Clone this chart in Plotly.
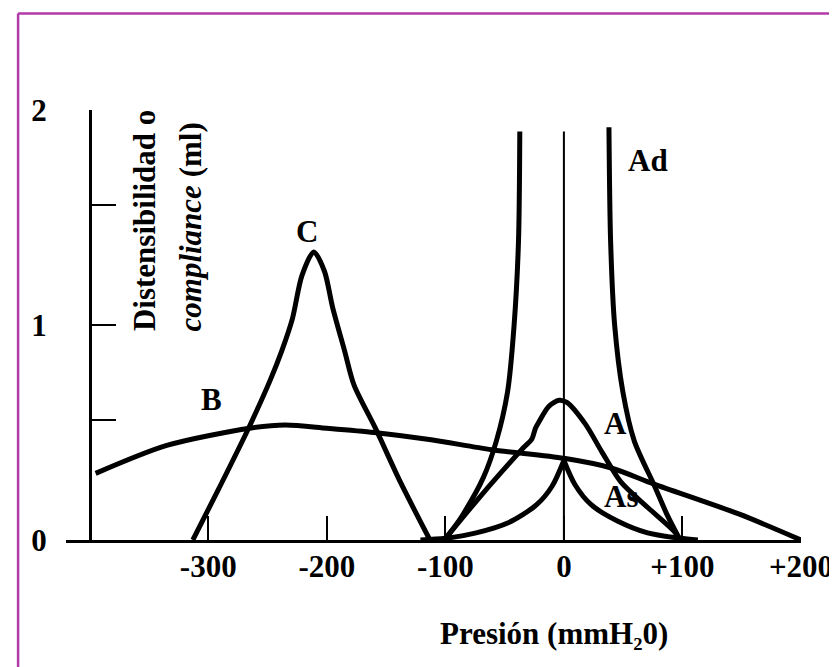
import plotly.graph_objects as go

# ---- data ----
b_x = [-395, -335, -265, -235, -200, -160, -112, -61, 0, 40, 76, 148, 200]
b_y = [0.31, 0.44, 0.52, 0.535, 0.52, 0.50, 0.466, 0.42, 0.38, 0.335, 0.26, 0.12, 0.0]

c_x = [-313, -291, -266, -248, -238, -229, -221, -211, -202, -195, -185, -177, -159, -138, -113]
c_y = [0.0, 0.24, 0.52, 0.74, 0.88, 1.03, 1.23, 1.34, 1.25, 1.08, 0.88, 0.72, 0.52, 0.27, 0.0]

a_x = [-101, -74, -52, -34, -27, -24, -21, -13, -4, 2.5, 18, 32, 48, 71, 93, 98]
a_y = [0.0, 0.18, 0.32, 0.43, 0.47, 0.52, 0.55, 0.62, 0.65, 0.64, 0.54, 0.41, 0.27, 0.15, 0.04, 0.0]

as_left_x = [-121, -100, -74, -47, -23, -10, 0]
as_left_y = [0.0, 0.008, 0.033, 0.08, 0.164, 0.25, 0.37]
as_right_x = [0, 9.4, 23, 45.6, 70.6, 98, 113]
as_right_y = [0.37, 0.257, 0.164, 0.087, 0.033, 0.008, 0.0]

ad_left_x = [-101, -93, -85, -68, -57, -47.5, -42, -38.3, -37.2]
ad_left_y = [0.0, 0.056, 0.12, 0.29, 0.46, 0.69, 1.0, 1.39, 1.90]
ad_right_x = [38, 39.4, 42.8, 49.7, 59.4, 76, 87, 98]
ad_right_y = [1.92, 1.39, 1.0, 0.69, 0.46, 0.257, 0.118, 0.0]

x_ticks = [-300, -200, -100, 0, 100, 200]
x_ticklabels = ['-300', '-200', '-100', '0', '+100', '+200']
y_ticks = [0, 1, 2]
y_ticklabels = ['0', '1', '2']
y_minor_ticks = [0.56, 1.56]

# ---- layout geometry (pixels) ----
W, H = 837, 667
ML, MR, MT, MB = 58, 35, 102, 135
PW = W - ML - MR
PH = H - MT - MB

def px2paper_x(px):
    return (px - ML) / PW

def px2paper_y(py):
    return (H - MB - py) / PH

FONT = 'Liberation Serif'
FS = 31
LW = 5

fig = go.Figure()

def add_curve(xs, ys):
    fig.add_trace(go.Scatter(x=xs, y=ys, mode='lines',
                             line=dict(color='black', width=LW, shape='spline', smoothing=0.8),
                             cliponaxis=False, showlegend=False, hoverinfo='skip'))

add_curve(b_x, b_y)
add_curve(c_x, c_y)
add_curve(a_x, a_y)
add_curve(as_left_x, as_left_y)
add_curve(as_right_x, as_right_y)
add_curve(ad_left_x, ad_left_y)
add_curve(ad_right_x, ad_right_y)

# thin vertical line at 0
fig.add_shape(type='line', xref='x', yref='y', x0=0, x1=0, y0=0, y1=1.9,
              line=dict(color='black', width=2))

# frame border (top and left, magenta)
bx = px2paper_x(9.5)
by = px2paper_y(5.5)
fig.add_shape(type='line', xref='paper', yref='paper', x0=bx, x1=bx,
              y0=by, y1=px2paper_y(H),
              line=dict(color='#b03aa8', width=2.5))
fig.add_shape(type='line', xref='paper', yref='paper', x0=bx, x1=px2paper_x(W),
              y0=by, y1=by,
              line=dict(color='#b03aa8', width=2.5))

def label(txt, px, py, angle=0, family=FONT):
    fig.add_annotation(x=px2paper_x(px), y=px2paper_y(py), xref='paper', yref='paper',
                       text=txt, showarrow=False, xanchor='center', yanchor='middle',
                       textangle=angle,
                       font=dict(family=family, size=FS, color='black', weight='bold'))

label('C', 302, 223)
label('B', 205, 391)
label('A', 614, 416)
label('As', 620, 488)
label('Ad', 647, 152)
label('Presión (mmH₂0)', 552, 625, family='Liberation Serif, DejaVu Serif')
label('Distensibilidad o', 138, 213, -90)
label('<i>compliance</i> (ml)', 184, 219, -90)

fig.update_layout(
    width=W, height=H,
    margin=dict(l=ML, r=MR, t=MT, b=MB),
    paper_bgcolor='white', plot_bgcolor='white',
    showlegend=False,
    xaxis=dict(range=[-420, 200], showgrid=False, zeroline=False,
               showline=True, linecolor='black', linewidth=2.5,
               ticks='inside', ticklen=24, tickwidth=2, tickcolor='black',
               tickvals=x_ticks, ticktext=x_ticklabels,
               ticklabelstandoff=-3,
               tickfont=dict(family=FONT, size=FS, color='black', weight='bold')),
    yaxis=dict(range=[0, 2], showgrid=False, zeroline=False,
               anchor='free', position=px2paper_x(82),
               showline=True, linecolor='black', linewidth=2.5,
               ticks='inside', ticklen=25, tickwidth=2, tickcolor='black',
               tickvals=y_ticks, ticktext=y_ticklabels,
               minor=dict(tickvals=y_minor_ticks, ticks='inside', ticklen=25,
                          tickwidth=2, tickcolor='black', showgrid=False),
               ticklabelstandoff=36,
               tickfont=dict(family=FONT, size=FS, color='black', weight='bold')),
)

fig.write_html('out.html')
